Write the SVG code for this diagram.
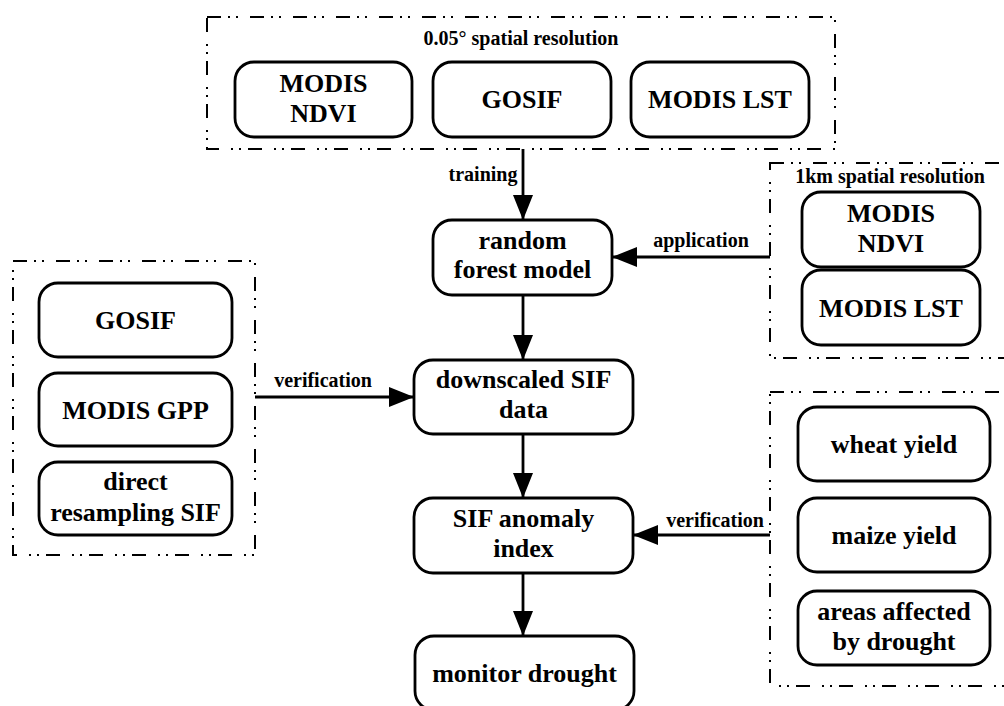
<svg xmlns="http://www.w3.org/2000/svg" width="1004" height="706" viewBox="0 0 1004 706">
<defs>
<style>
.grp{fill:none;stroke:#000;stroke-width:2;stroke-dasharray:14 7 2 6 2 12}
.box{fill:#fff;stroke:#000;stroke-width:2.8}
.lbl{font-family:"Liberation Serif","Times New Roman",serif;font-weight:bold;font-size:26px;text-anchor:middle;fill:#000}
.ttl{font-family:"Liberation Serif","Times New Roman",serif;font-weight:bold;font-size:20px;text-anchor:middle;fill:#000}
.cl{font-family:"Liberation Serif","Times New Roman",serif;font-weight:bold;font-size:20px;text-anchor:middle;fill:#000}
.edge{fill:none;stroke:#000;stroke-width:2.8;marker-end:url(#ah)}
</style>
<marker id="ah" markerUnits="userSpaceOnUse" markerWidth="28" markerHeight="22" refX="25" refY="10" orient="auto">
<path d="M0,0 L25,10 L0,20 Z" fill="#000"/>
</marker>
</defs>
<rect width="1004" height="706" fill="#fff"/>

<g id="group-005">
<rect class="grp" x="207" y="17" width="628" height="132"/>
<text class="ttl" x="521" y="45">0.05° spatial resolution</text>
</g>
<g id="group-1km">
<rect class="grp" x="770" y="163" width="260" height="195"/>
<text class="ttl" x="890" y="183">1km spatial resolution</text>
</g>
<g id="group-left">
<rect class="grp" x="13" y="261" width="242" height="294"/>
</g>
<g id="group-right">
<rect class="grp" x="770" y="392" width="260" height="294"/>
</g>

<g id="connectors">
<line class="edge" x1="523" y1="149" x2="523" y2="220"/>
<line class="edge" x1="523" y1="295" x2="523" y2="360"/>
<line class="edge" x1="523" y1="434" x2="523" y2="498"/>
<line class="edge" x1="523" y1="573" x2="523" y2="636"/>
<line class="edge" x1="770" y1="257" x2="612" y2="257"/>
<line class="edge" x1="255" y1="397" x2="414" y2="397"/>
<line class="edge" x1="770" y1="535" x2="633" y2="535"/>
<text class="cl" x="483" y="181">training</text>
<text class="cl" x="701" y="247">application</text>
<text class="cl" x="323" y="387">verification</text>
<text class="cl" x="715" y="527">verification</text>
</g>

<g id="top-ndvi">
<rect class="box" x="235" y="62" width="177" height="75" rx="19"/>
<text class="lbl" x="323.5" y="92">MODIS</text>
<text class="lbl" x="323.5" y="122">NDVI</text>
</g>
<g id="top-gosif">
<rect class="box" x="433" y="62" width="178" height="75" rx="19"/>
<text class="lbl" x="522" y="108">GOSIF</text>
</g>
<g id="top-lst">
<rect class="box" x="631" y="62" width="178" height="75" rx="19"/>
<text class="lbl" x="720" y="108">MODIS LST</text>
</g>

<g id="rf">
<rect class="box" x="433" y="220" width="179" height="75" rx="19"/>
<text class="lbl" x="522.5" y="249">random</text>
<text class="lbl" x="522.5" y="278">forest model</text>
</g>
<g id="right-ndvi">
<rect class="box" x="802" y="192" width="178" height="75" rx="19"/>
<text class="lbl" x="891" y="222">MODIS</text>
<text class="lbl" x="891" y="252">NDVI</text>
</g>
<g id="right-lst">
<rect class="box" x="802" y="270" width="178" height="75" rx="19"/>
<text class="lbl" x="891" y="317">MODIS LST</text>
</g>

<g id="left-gosif">
<rect class="box" x="39" y="283" width="193" height="74" rx="19"/>
<text class="lbl" x="135.5" y="329">GOSIF</text>
</g>
<g id="left-gpp">
<rect class="box" x="39" y="373" width="193" height="73" rx="19"/>
<text class="lbl" x="135.5" y="419">MODIS GPP</text>
</g>
<g id="left-direct">
<rect class="box" x="39" y="462" width="193" height="73" rx="19"/>
<text class="lbl" x="135.5" y="490">direct</text>
<text class="lbl" x="135.5" y="521">resampling SIF</text>
</g>

<g id="downscaled">
<rect class="box" x="414" y="360" width="219" height="74" rx="19"/>
<text class="lbl" x="523.5" y="388">downscaled SIF</text>
<text class="lbl" x="523.5" y="418">data</text>
</g>
<g id="anomaly">
<rect class="box" x="414" y="498" width="219" height="75" rx="19"/>
<text class="lbl" x="523.5" y="527">SIF anomaly</text>
<text class="lbl" x="523.5" y="557">index</text>
</g>
<g id="monitor">
<rect class="box" x="415" y="636" width="219" height="74" rx="19"/>
<text class="lbl" x="524.5" y="682">monitor drought</text>
</g>

<g id="wheat">
<rect class="box" x="798" y="407" width="192" height="74" rx="19"/>
<text class="lbl" x="894" y="453">wheat yield</text>
</g>
<g id="maize">
<rect class="box" x="798" y="498" width="192" height="74" rx="19"/>
<text class="lbl" x="894" y="544">maize yield</text>
</g>
<g id="areas">
<rect class="box" x="798" y="591" width="192" height="74" rx="19"/>
<text class="lbl" x="894" y="620">areas affected</text>
<text class="lbl" x="894" y="650">by drought</text>
</g>
</svg>
